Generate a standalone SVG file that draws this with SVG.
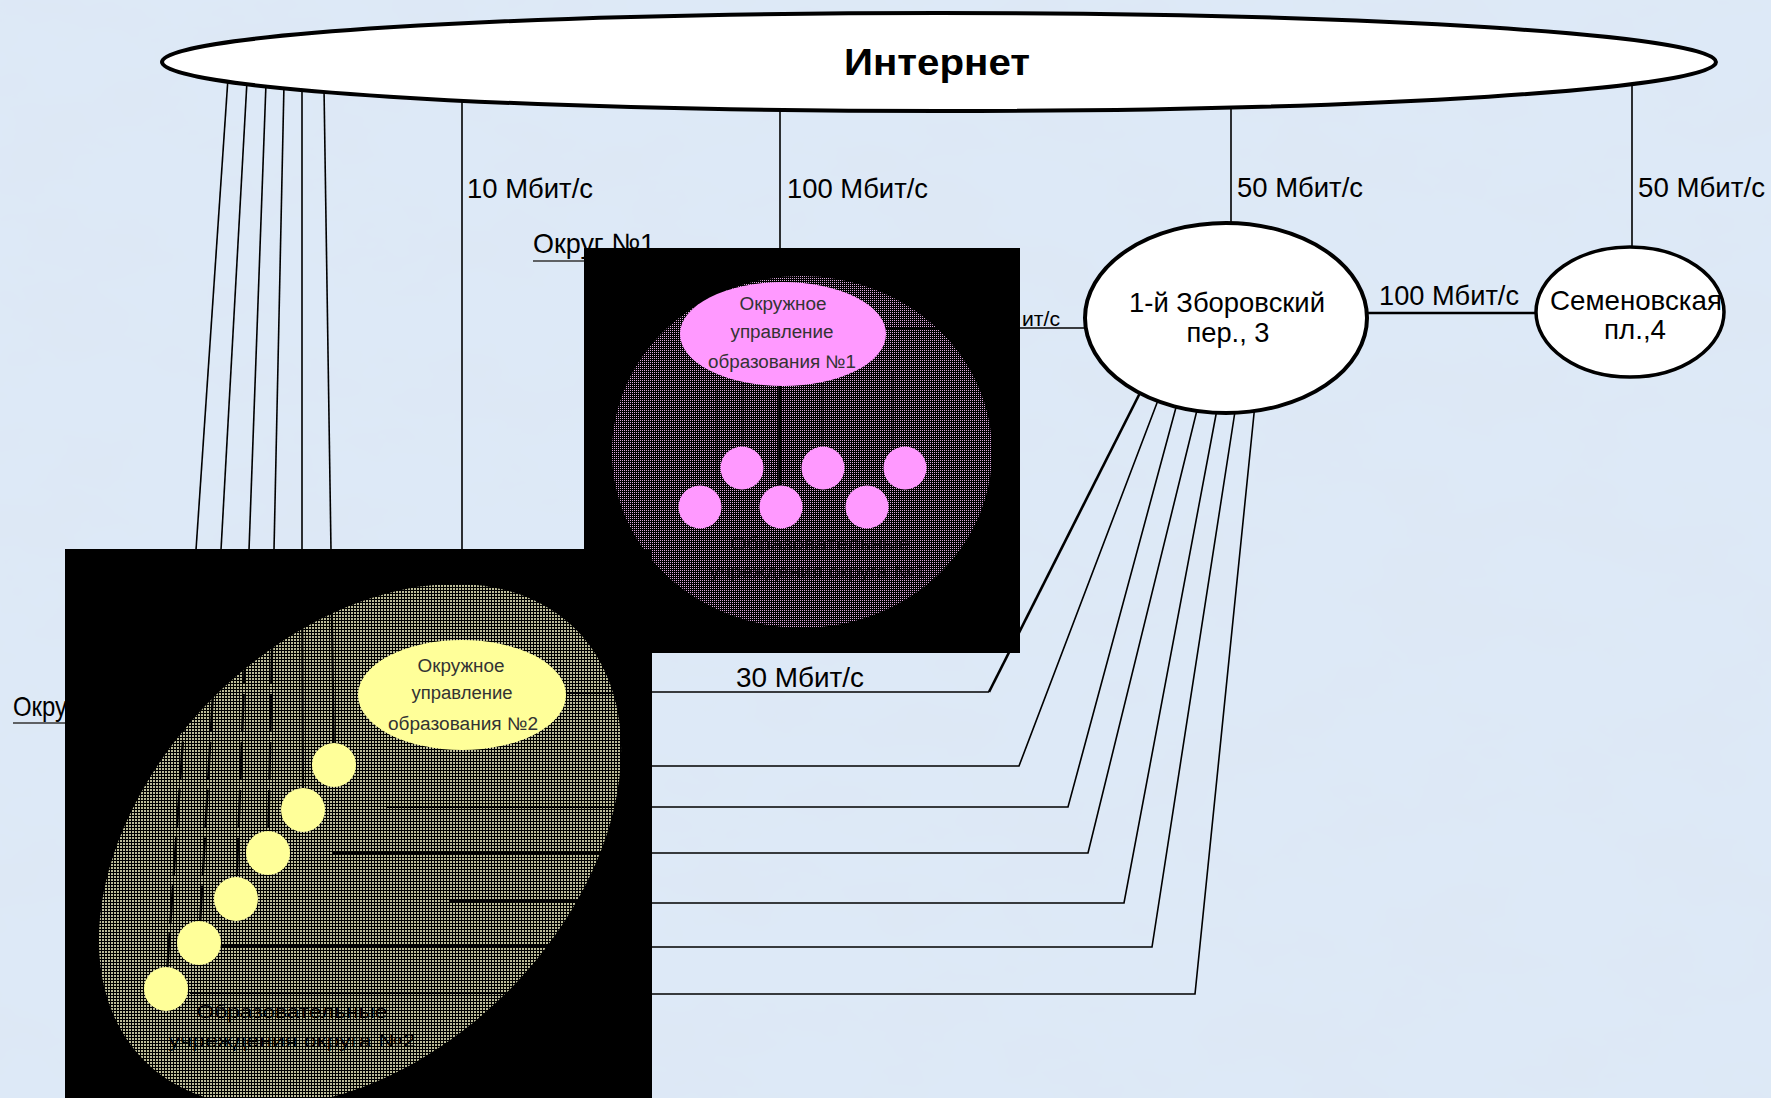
<svg xmlns="http://www.w3.org/2000/svg" width="1771" height="1098" viewBox="0 0 1771 1098">
<defs>
<style>
.ln{stroke:#000;stroke-width:1.6;fill:none}
.lnb{stroke:#000;stroke-width:2.6;fill:none}
.inner{stroke:#000;stroke-width:2.2;fill:none}
.dash{stroke:#000;stroke-width:2.4;fill:none;stroke-dasharray:38 10}
.node{fill:#fff;stroke:#000;stroke-width:4}
.box{fill:#000}
.pink{fill:#ff99ff}
.yel{fill:#ffff99}
.lbl{font-family:"Liberation Sans",Arial,sans-serif;font-size:28px;fill:#000}
.title{font-family:"Liberation Sans",Arial,sans-serif;font-size:36px;font-weight:bold;fill:#000}
.small{font-family:"Liberation Sans",Arial,sans-serif;font-size:18px;fill:#333}
.hid{font-family:"Liberation Sans",Arial,sans-serif;font-size:19px;fill:#000}
</style>
<filter id="clouds" filterUnits="userSpaceOnUse" x="0" y="0" width="1771" height="1098">
<feTurbulence type="fractalNoise" baseFrequency="0.008 0.014" numOctaves="4" seed="7" result="n"/>
<feColorMatrix in="n" type="matrix" values="0 0 0 0 0.72  0 0 0 0 0.80  0 0 0 0 0.90  1.5 0 0 0 -0.58"/>
</filter>
<pattern id="dotPink" width="2" height="2" patternUnits="userSpaceOnUse"><rect width="2" height="2" fill="#000"/><rect width="1" height="1" fill="#dca8dc"/></pattern>
<pattern id="dotYel" width="3" height="3" patternUnits="userSpaceOnUse"><rect width="3" height="3" fill="#000"/><rect width="2" height="2" fill="#bcbc98"/></pattern>
</defs>

<rect width="1771" height="1098" fill="#dde9f7"/>
<rect width="1771" height="1098" filter="url(#clouds)"/>

<g id="connectors">
<path class="ln" d="M228 78 L196 550"/>
<path class="ln" d="M247 81 L221 550"/>
<path class="ln" d="M266 83 L249 550"/>
<path class="ln" d="M284 84 L274 550"/>
<path class="ln" d="M302 86 L302 550"/>
<path class="ln" d="M324 88 L331 550"/>
<path class="ln" d="M462 95 V550"/>
<path class="ln" d="M780 100 V248"/>
<path class="ln" d="M1231 100 V226"/>
<path class="ln" d="M1632 78 V250"/>
<path class="ln" d="M1018 328 H1095"/>
<path class="lnb" d="M1360 313 H1540"/>
<path class="lnb" d="M1144 385 L989 692"/>
<path class="ln" d="M989 692 H650"/>
<path class="ln" d="M1160 395 L1019 766 H650"/>
<path class="ln" d="M1178 400 L1068 807 H650"/>
<path class="ln" d="M1199 402 L1088 853 H650"/>
<path class="ln" d="M1218 404 L1124 903 H650"/>
<path class="ln" d="M1236 405 L1152 947 H650"/>
<path class="ln" d="M1255 404 L1195 994 H650"/>
</g>

<g id="link-labels">
<text class="lbl" x="467" y="198" textLength="126" lengthAdjust="spacingAndGlyphs">10 Мбит/с</text>
<text class="lbl" x="787" y="198" textLength="141" lengthAdjust="spacingAndGlyphs">100 Мбит/с</text>
<text class="lbl" x="1237" y="197" textLength="126" lengthAdjust="spacingAndGlyphs">50 Мбит/с</text>
<text class="lbl" x="1638" y="197" textLength="127" lengthAdjust="spacingAndGlyphs">50 Мбит/с</text>
<text class="lbl" x="1379" y="305" textLength="140" lengthAdjust="spacingAndGlyphs">100 Мбит/с</text>
<text class="lbl" x="736" y="687" textLength="128" lengthAdjust="spacingAndGlyphs">30 Мбит/с</text>
<text class="lbl" x="1022" y="326" style="font-size:20px" textLength="38" lengthAdjust="spacingAndGlyphs">ит/с</text>
</g>

<g id="internet">
<ellipse class="node" cx="939" cy="62" rx="777" ry="49"/>
<text class="title" x="937" y="75" text-anchor="middle" textLength="186" lengthAdjust="spacingAndGlyphs">Интернет</text>
</g>

<g id="zborovsky">
<ellipse class="node" cx="1226" cy="318" rx="141" ry="95"/>
<text class="lbl" x="1227" y="312" text-anchor="middle" textLength="196" lengthAdjust="spacingAndGlyphs">1-й Зборовский</text>
<text class="lbl" x="1228" y="342" text-anchor="middle" textLength="83" lengthAdjust="spacingAndGlyphs">пер., 3</text>
</g>

<g id="semenovskaya">
<ellipse class="node" cx="1630" cy="312" rx="94" ry="65" style="stroke-width:3.5"/>
<text class="lbl" x="1636" y="310" text-anchor="middle" textLength="172" lengthAdjust="spacingAndGlyphs">Семеновская</text>
<text class="lbl" x="1635" y="339" text-anchor="middle" textLength="62" lengthAdjust="spacingAndGlyphs">пл.,4</text>
</g>

<g id="district-labels">
<text class="lbl" x="533" y="253" textLength="122" lengthAdjust="spacingAndGlyphs">Округ №1</text>
<path d="M533 261 H586" stroke="#333" stroke-width="1.6"/>
<text class="lbl" x="13" y="716" textLength="54" lengthAdjust="spacingAndGlyphs">Окру</text>
<path d="M13 723 H66" stroke="#333" stroke-width="1.6"/>
</g>

<g id="district1">
<rect class="box" x="584" y="248" width="436" height="405"/>
<ellipse cx="802" cy="452" rx="190" ry="176" fill="url(#dotPink)"/>
<path class="inner" d="M885 328 H1020"/>
<path d="M780 384 V486" stroke="#000" stroke-width="3.5"/>
<path d="M743 380 V447 M822 383 V447 M893 372 V447 M717 390 V486" stroke="#000" stroke-width="2.5" opacity="0.35"/>
<ellipse class="pink" cx="783" cy="334" rx="103" ry="52"/>
<text class="small" x="783" y="310" text-anchor="middle" textLength="87" lengthAdjust="spacingAndGlyphs">Окружное</text>
<text class="small" x="782" y="338" text-anchor="middle" textLength="103" lengthAdjust="spacingAndGlyphs">управление</text>
<text class="small" x="782" y="368" text-anchor="middle" textLength="148" lengthAdjust="spacingAndGlyphs">образования №1</text>
<circle class="pink" cx="742" cy="468" r="21.5"/>
<circle class="pink" cx="823" cy="468" r="21.5"/>
<circle class="pink" cx="905" cy="468" r="21.5"/>
<circle class="pink" cx="700" cy="507" r="21.5"/>
<circle class="pink" cx="781" cy="507" r="21.5"/>
<circle class="pink" cx="867" cy="507" r="21.5"/>
<text class="hid" x="820" y="550" text-anchor="middle" textLength="180" lengthAdjust="spacingAndGlyphs" opacity="0.6">Образовательные</text>
<text class="hid" x="818" y="578" text-anchor="middle" textLength="217" lengthAdjust="spacingAndGlyphs" opacity="0.6">учреждения округа №1</text>
</g>

<g id="district2">
<rect class="box" x="65" y="549" width="587" height="549"/>
<path d="M575.7 629.3 A305 208 -45 0 0 144.3 1060.7 A305 208 -45 0 0 575.7 629.3 Z" fill="url(#dotYel)"/>
<path class="dash" d="M196 550 L166 987"/>
<path class="dash" d="M221 550 L199 943"/>
<path class="dash" d="M249 550 L236 899"/>
<path class="dash" d="M274 550 L268 853"/>
<path class="inner" d="M302 550 L303 810"/>
<path class="inner" d="M331 550 L334 765"/>
<path class="inner" d="M567 693 H652 M387 807 H652 M333 853 H652 M450 901 H652 M220 946 H652 M190 993 H652"/>
<ellipse class="yel" cx="462" cy="695" rx="104" ry="55"/>
<text class="small" x="461" y="672" text-anchor="middle" textLength="87" lengthAdjust="spacingAndGlyphs">Окружное</text>
<text class="small" x="462" y="699" text-anchor="middle" textLength="101" lengthAdjust="spacingAndGlyphs">управление</text>
<text class="small" x="463" y="730" text-anchor="middle" textLength="150" lengthAdjust="spacingAndGlyphs">образования №2</text>
<circle class="yel" cx="334" cy="765" r="22"/>
<circle class="yel" cx="303" cy="810" r="22"/>
<circle class="yel" cx="268" cy="853" r="22"/>
<circle class="yel" cx="236" cy="899" r="22"/>
<circle class="yel" cx="199" cy="943" r="22"/>
<circle class="yel" cx="166" cy="989" r="22"/>
<text class="hid" x="292" y="1018" text-anchor="middle" textLength="191" lengthAdjust="spacingAndGlyphs">Образовательные</text>
<text class="hid" x="292" y="1047" text-anchor="middle" textLength="247" lengthAdjust="spacingAndGlyphs">учреждения округа №2</text>
</g>
</svg>
